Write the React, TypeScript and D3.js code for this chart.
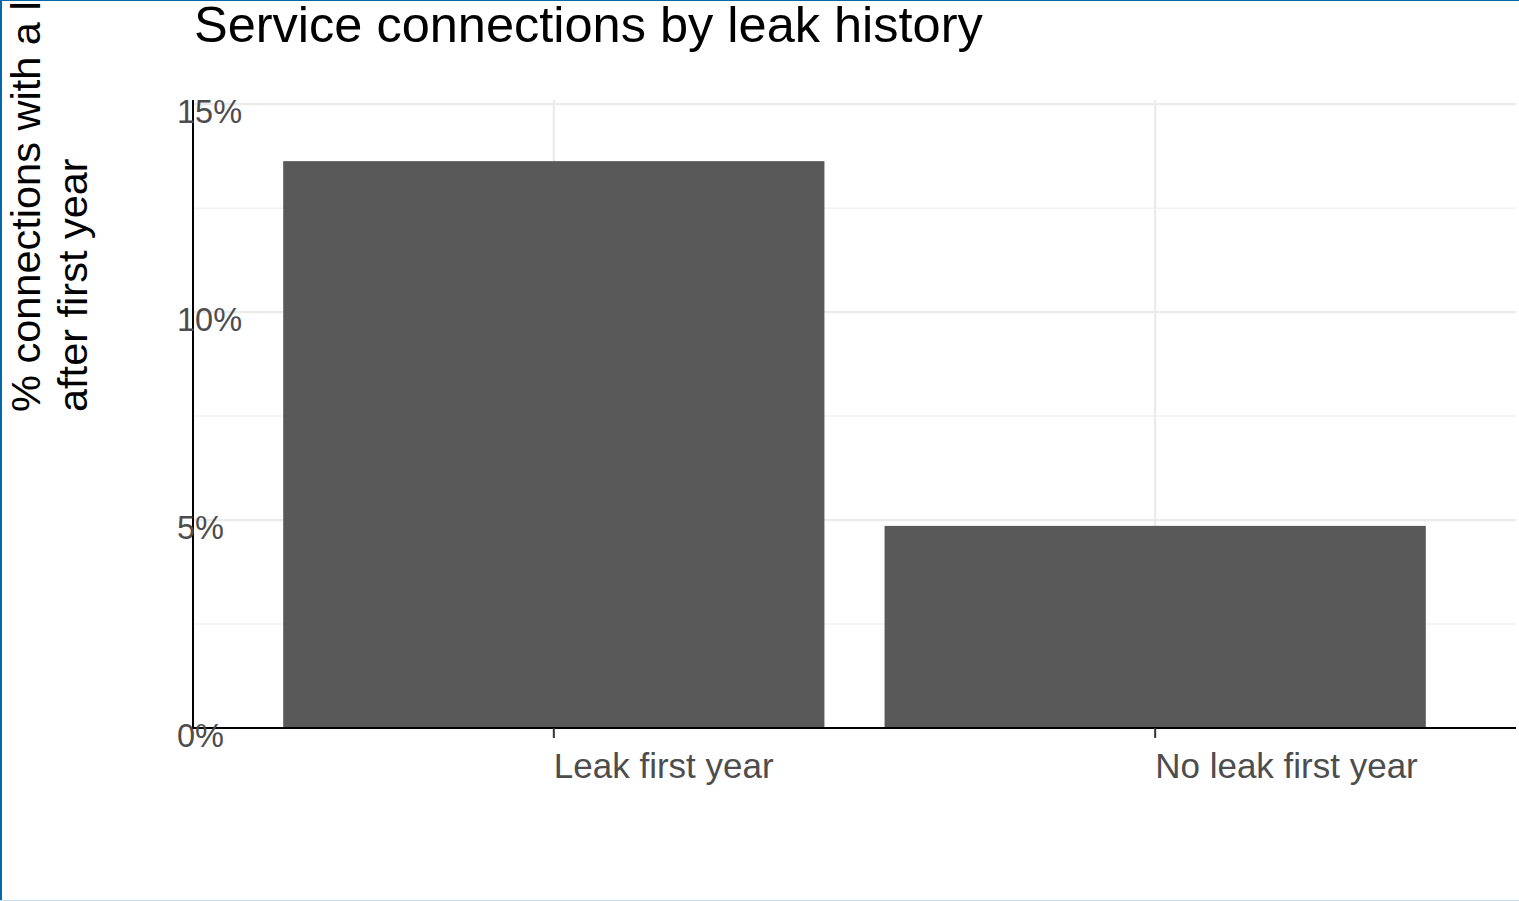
import React from 'react';
import * as d3 from 'd3';

const categories = ['Leak first year', 'No leak first year'];
const values = [13.63, 4.86];
const yTicks = [0, 5, 10, 15];
const yMinorTicks = [2.5, 7.5, 12.5];
const title = 'Service connections by leak history';
const yTitle = ['% connections with a leak', 'after first year'];

const W = 1519;
const H = 901;
const margin = { top: 100, right: 3, bottom: 173, left: 193 };
const font = '"Liberation Sans", Arial, sans-serif';

export default function App() {
    const innerW = W - margin.left - margin.right;
    const innerH = H - margin.top - margin.bottom;

    // ggplot-like discrete expansion: 0.6 units each side
    const x = d3.scaleLinear()
        .domain([0.4, categories.length + 0.6])
        .range([0, innerW]);
    const y = d3.scaleLinear()
        .domain([0, 15.1])
        .range([innerH, 0]);
    const barW = x(1.45) - x(0.55);

    return (
        <div style={{ position: 'fixed', left: 0, top: 0, width: W, height: H, background: '#fff' }}>
            <svg width={W} height={H} style={{ display: 'block', fontFamily: font }}>
                <line x1={1} x2={1} y1={0} y2={H} stroke="#0868ac" strokeWidth={2} />
                <line x1={0} x2={W} y1={0.5} y2={0.5} stroke="#0868ac" strokeWidth={1} />
                <line x1={0} x2={W} y1={H - 0.5} y2={H - 0.5} stroke="#c4dcef" strokeWidth={1} />

                <g transform={`translate(${margin.left},${margin.top})`}>
                    {yMinorTicks.map(t => (
                        <line key={'mn' + t} x1={0} x2={innerW} y1={y(t)} y2={y(t)} stroke="#f2f2f2" strokeWidth={1.5} />
                    ))}
                    {yTicks.map(t => (
                        <line key={'mj' + t} x1={0} x2={innerW} y1={y(t)} y2={y(t)} stroke="#ebebeb" strokeWidth={2.2} />
                    ))}
                    {categories.map((c, i) => (
                        <line key={'vg' + c} x1={x(i + 1)} x2={x(i + 1)} y1={0} y2={innerH} stroke="#ebebeb" strokeWidth={2.2} />
                    ))}

                    {categories.map((c, i) => (
                        <rect key={'bar' + c}
                            x={x(i + 1) - barW / 2}
                            y={y(values[i])}
                            width={barW}
                            height={y(0) - y(values[i])}
                            fill="#595959" />
                    ))}

                    <line x1={0} x2={0} y1={0} y2={innerH + 1} stroke="#000" strokeWidth={2} />
                    <line x1={0} x2={innerW} y1={innerH} y2={innerH} stroke="#000" strokeWidth={2} />

                    {yTicks.map(t => (
                        <text key={'yl' + t} x={-16} y={y(t) + 19} fontSize={32.5} fill="#4d4d4d">{t}%</text>
                    ))}
                    {categories.map((c, i) => (
                        <g key={'xl' + c}>
                            <line x1={x(i + 1)} x2={x(i + 1)} y1={innerH} y2={innerH + 10} stroke="#333" strokeWidth={2} />
                            <text x={x(i + 1)} y={innerH + 50} fontSize={35} fill="#4d4d4d">{c}</text>
                        </g>
                    ))}
                </g>

                <text x={194} y={42} fontSize={50.5} fill="#000">{title}</text>

                <text transform="rotate(-90)" fontSize={41.5} fill="#000">
                    <tspan x={-412} y={40}>{yTitle[0]}</tspan>
                    <tspan x={-412} y={87}>{yTitle[1]}</tspan>
                </text>
            </svg>
        </div>
    );
}
